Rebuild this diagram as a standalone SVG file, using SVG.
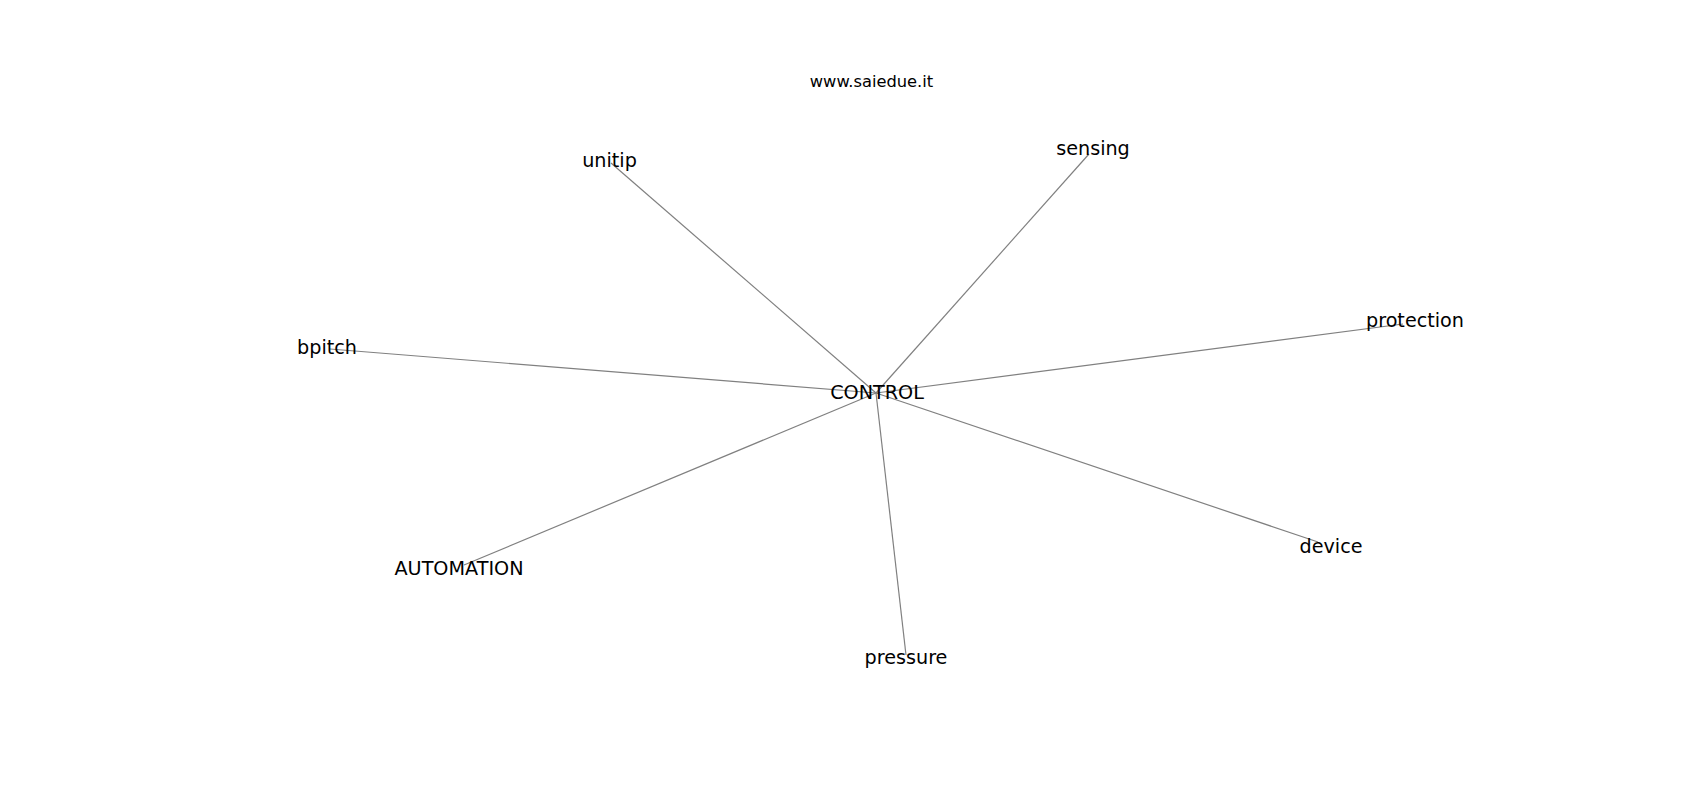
<svg xmlns="http://www.w3.org/2000/svg" width="1700" height="800" viewBox="0 0 1700 800">
<style>
.edge{stroke:#808080;stroke-width:1.2;fill:none}
.lbl{font-family:"DejaVu Sans",sans-serif;font-size:19.2px;fill:#000;text-anchor:middle}
.title{font-family:"DejaVu Sans",sans-serif;font-size:16.3px;fill:#000;text-anchor:middle}
</style>
<rect width="1700" height="800" fill="#fff"/>
<text class="title" x="871.5" y="87">www.saiedue.it</text>
<g id="connectors">
<line class="edge" x1="876" y1="393" x2="611" y2="163"/>
<line class="edge" x1="876" y1="393" x2="1089" y2="154"/>
<line class="edge" x1="876" y1="393" x2="1403" y2="324"/>
<line class="edge" x1="876" y1="393" x2="330" y2="349"/>
<line class="edge" x1="876" y1="393" x2="464" y2="565"/>
<line class="edge" x1="876" y1="393" x2="906" y2="655"/>
<line class="edge" x1="876" y1="393" x2="1318" y2="542"/>
</g>
<g id="CONTROL"><text class="lbl" x="877" y="399">CONTROL</text></g>
<g id="unitip"><text class="lbl" x="609.5" y="167">unitip</text></g>
<g id="sensing"><text class="lbl" x="1093" y="155">sensing</text></g>
<g id="protection"><text class="lbl" x="1415" y="327">protection</text></g>
<g id="bpitch"><text class="lbl" x="327" y="354">bpitch</text></g>
<g id="AUTOMATION"><text class="lbl" x="459" y="575">AUTOMATION</text></g>
<g id="pressure"><text class="lbl" x="906" y="664">pressure</text></g>
<g id="device"><text class="lbl" x="1331" y="553">device</text></g>
</svg>
